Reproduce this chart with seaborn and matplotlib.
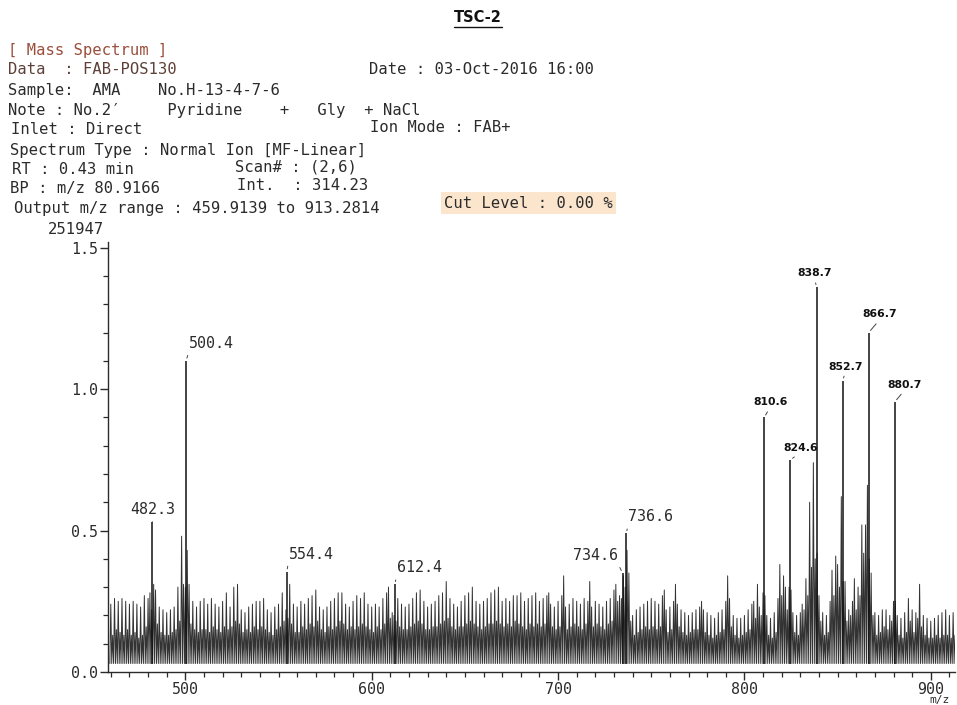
import numpy as np
import matplotlib
matplotlib.use("Agg")
import matplotlib.pyplot as plt
import seaborn as sns
from matplotlib.lines import Line2D
from matplotlib.ticker import MultipleLocator

# background ion comb, one relative intensity per nominal m/z from 460 upwards
comb_start = 460
comb_heights = [
    0.24, 0.13, 0.26, 0.15, 0.25, 0.14, 0.26, 0.13, 0.25, 0.15,  # 460
    0.24, 0.13, 0.25, 0.14, 0.24, 0.12, 0.23, 0.13, 0.27, 0.16,  # 470
    0.26, 0.28, 0.22, 0.31, 0.29, 0.17, 0.23, 0.14, 0.22, 0.13,  # 480
    0.21, 0.13, 0.22, 0.14, 0.23, 0.15, 0.30, 0.18, 0.48, 0.31,  # 490
    0.30, 0.43, 0.31, 0.17, 0.25, 0.15, 0.23, 0.14, 0.25, 0.15,  # 500
    0.26, 0.15, 0.24, 0.14, 0.26, 0.16, 0.24, 0.15, 0.23, 0.14,  # 510
    0.25, 0.16, 0.28, 0.15, 0.23, 0.16, 0.30, 0.18, 0.31, 0.17,  # 520
    0.22, 0.14, 0.21, 0.15, 0.23, 0.14, 0.24, 0.16, 0.25, 0.15,  # 530
    0.25, 0.16, 0.26, 0.15, 0.22, 0.14, 0.21, 0.13, 0.23, 0.15,  # 540
    0.24, 0.16, 0.28, 0.18, 0.22, 0.19, 0.31, 0.17, 0.24, 0.14,  # 550
    0.23, 0.14, 0.25, 0.16, 0.24, 0.15, 0.26, 0.17, 0.27, 0.16,  # 560
    0.29, 0.18, 0.23, 0.15, 0.22, 0.14, 0.23, 0.16, 0.25, 0.15,  # 570
    0.26, 0.16, 0.28, 0.18, 0.28, 0.17, 0.24, 0.15, 0.23, 0.16,  # 580
    0.25, 0.15, 0.27, 0.16, 0.26, 0.17, 0.28, 0.16, 0.24, 0.15,  # 590
    0.23, 0.14, 0.24, 0.16, 0.23, 0.15, 0.26, 0.17, 0.28, 0.30,  # 600
    0.19, 0.21, 0.20, 0.18, 0.26, 0.16, 0.24, 0.15, 0.23, 0.15,  # 610
    0.24, 0.16, 0.26, 0.17, 0.28, 0.18, 0.29, 0.17, 0.25, 0.15,  # 620
    0.23, 0.15, 0.24, 0.16, 0.25, 0.16, 0.27, 0.17, 0.28, 0.18,  # 630
    0.32, 0.19, 0.26, 0.16, 0.24, 0.15, 0.23, 0.16, 0.25, 0.16,  # 640
    0.27, 0.17, 0.28, 0.18, 0.30, 0.17, 0.25, 0.16, 0.24, 0.15,  # 650
    0.25, 0.16, 0.26, 0.17, 0.28, 0.17, 0.29, 0.18, 0.30, 0.17,  # 660
    0.25, 0.16, 0.26, 0.17, 0.25, 0.16, 0.27, 0.18, 0.27, 0.17,  # 670
    0.28, 0.16, 0.25, 0.15, 0.26, 0.17, 0.27, 0.16, 0.28, 0.17,  # 680
    0.25, 0.16, 0.26, 0.17, 0.27, 0.28, 0.24, 0.16, 0.23, 0.15,  # 690
    0.25, 0.16, 0.27, 0.34, 0.23, 0.15, 0.24, 0.16, 0.26, 0.17,  # 700
    0.25, 0.16, 0.24, 0.15, 0.26, 0.17, 0.25, 0.32, 0.23, 0.16,  # 710
    0.25, 0.17, 0.24, 0.16, 0.23, 0.15, 0.25, 0.17, 0.26, 0.18,  # 720
    0.29, 0.31, 0.25, 0.27, 0.26, 0.34, 0.30, 0.43, 0.35, 0.18,  # 730
    0.20, 0.13, 0.22, 0.14, 0.23, 0.15, 0.24, 0.16, 0.25, 0.15,  # 740
    0.26, 0.16, 0.25, 0.15, 0.24, 0.16, 0.27, 0.29, 0.22, 0.14,  # 750
    0.23, 0.15, 0.25, 0.31, 0.24, 0.16, 0.22, 0.14, 0.21, 0.13,  # 760
    0.20, 0.14, 0.21, 0.15, 0.22, 0.15, 0.23, 0.25, 0.22, 0.14,  # 770
    0.21, 0.13, 0.20, 0.12, 0.19, 0.13, 0.21, 0.14, 0.22, 0.15,  # 780
    0.25, 0.34, 0.26, 0.16, 0.20, 0.13, 0.19, 0.12, 0.19, 0.13,  # 790
    0.20, 0.14, 0.22, 0.15, 0.24, 0.25, 0.19, 0.31, 0.23, 0.20,  # 800
    0.28, 0.27, 0.20, 0.13, 0.19, 0.12, 0.21, 0.14, 0.26, 0.38,  # 810
    0.27, 0.34, 0.30, 0.22, 0.30, 0.29, 0.21, 0.14, 0.20, 0.13,  # 820
    0.21, 0.24, 0.22, 0.33, 0.27, 0.60, 0.37, 0.74, 0.40, 0.42,  # 830
    0.27, 0.18, 0.21, 0.13, 0.20, 0.14, 0.25, 0.36, 0.27, 0.41,  # 840
    0.38, 0.30, 0.62, 0.32, 0.32, 0.18, 0.22, 0.20, 0.25, 0.33,  # 850
    0.22, 0.30, 0.27, 0.52, 0.42, 0.52, 0.66, 0.40, 0.35, 0.20,  # 860
    0.21, 0.13, 0.20, 0.14, 0.22, 0.16, 0.22, 0.15, 0.20, 0.18,  # 870
    0.25, 0.25, 0.20, 0.13, 0.19, 0.12, 0.21, 0.14, 0.26, 0.18,  # 880
    0.22, 0.14, 0.21, 0.19, 0.31, 0.16, 0.20, 0.13, 0.19, 0.12,  # 890
    0.18, 0.12, 0.19, 0.13, 0.20, 0.12, 0.21, 0.13, 0.22, 0.13,  # 900
    0.20, 0.12, 0.21, 0.13,                                      # 910
]
noise_floor = 0.03

# labelled ions
peak_mz = [482.3, 500.4, 554.4, 612.4, 734.6, 736.6,
           810.6, 824.6, 838.7, 852.7, 866.7, 880.7]
peak_int = [0.53, 1.10, 0.355, 0.31, 0.35, 0.49,
            0.90, 0.75, 1.36, 1.03, 1.20, 0.955]
peak_text = ["482.3", "500.4", "554.4", "612.4", "734.6", "736.6",
             "810.6", "824.6", "838.7", "852.7", "866.7", "880.7"]

x_ticks = [500, 600, 700, 800, 900]
y_ticks = [0.0, 0.5, 1.0, 1.5]
y_tick_labels = ["0.0", "0.5", "1.0", "1.5"]

header_left = [
    "[ Mass Spectrum ]",
    "Data  : FAB-POS130",
    "Sample:  AMA    No.H-13-4-7-6",
    "Note : No.2\u2032     Pyridine    +   Gly  + NaCl",
    "Inlet : Direct",
    "Spectrum Type : Normal Ion [MF-Linear]",
    "RT : 0.43 min",
    "BP : m/z 80.9166",
    "Output m/z range : 459.9139 to 913.2814",
    "251947",
]
header_right = [
    "Date : 03-Oct-2016 16:00",
    "Ion Mode : FAB+",
    "Scan# : (2,6)",
    "Int.  : 314.23",
    "Cut Level : 0.00 %",
]

W, H = 957, 705
MONO = "DejaVu Sans Mono"
INK = "#2b2b2b"


def fx(x):
    return x / W


def fy(y):
    return 1 - y / H


sns.set_theme(style="ticks")
plt.rcParams["font.family"] = ["DejaVu Sans"]

fig = plt.figure(figsize=(W / 100, H / 100), dpi=100)
fig.patch.set_facecolor("white")

# title
title = fig.text(fx(478), fy(17), "TSC-2", ha="center", va="center",
                 fontsize=10.5, fontweight="bold", color="#111111")

# header block
left_pos = [(8, 51), (8, 70), (8, 90), (8, 110), (11, 130), (10, 150),
            (12, 170), (10, 189), (14, 208), (48, 230)]
for (x, y), s in zip(left_pos, header_left):
    col = "#9a4e3c" if s.startswith("[") else ("#5e4038" if s.startswith("Data") else INK)
    fig.text(fx(x), fy(y), s, family=MONO, fontsize=11.2, color=col,
             ha="left", va="center")

right_pos = [(369, 69), (370, 127), (235, 167), (237, 186), (444, 203)]
for (x, y), s in zip(right_pos, header_right):
    box = None
    if s.startswith("Cut"):
        box = dict(facecolor="#fbe5cc", edgecolor="none", pad=2.5)
    fig.text(fx(x), fy(y), s, family=MONO, fontsize=11.2, color=INK,
             ha="left", va="center", bbox=box)

# spectrum axes
ax = fig.add_axes([fx(108), fy(672), 847 / W, 430 / H])
ax.set_facecolor("white")

# profile trace: each comb ion rises from the noise floor and falls back
comb_mz = np.arange(comb_start, comb_start + len(comb_heights))
trace_x = np.column_stack([comb_mz - 0.5, comb_mz]).ravel()
trace_y = np.column_stack([np.full(len(comb_heights), noise_floor), comb_heights]).ravel()
sns.lineplot(x=trace_x, y=trace_y, ax=ax, color="#333333", lw=0.7,
             sort=False, estimator=None)
ax.vlines(peak_mz, noise_floor, peak_int, color="#111111", lw=1.1)

ax.set_xlim(458.5, 913)
ax.set_ylim(0, 1.52)
ax.set_xticks(x_ticks)
ax.set_xticklabels([str(t) for t in x_ticks])
ax.set_yticks(y_ticks)
ax.set_yticklabels(y_tick_labels)
ax.xaxis.set_minor_locator(MultipleLocator(10))
ax.yaxis.set_minor_locator(MultipleLocator(0.1))
ax.tick_params(which="major", direction="out", length=5.5, width=1.0,
               color=INK, labelcolor=INK, labelsize=10.8, pad=1.5)
ax.tick_params(which="minor", direction="out", length=3.5, width=0.9, color=INK)
for lab in ax.get_xticklabels() + ax.get_yticklabels():
    lab.set_family(MONO)
ax.set_xlabel("")
ax.set_ylabel("")
sns.despine(ax=ax)
for side in ["left", "bottom"]:
    ax.spines[side].set_color(INK)
    ax.spines[side].set_linewidth(1.0)
ax.grid(False)

# peak annotations
label_offsets = [(0, 3.6), (2.2, 7.2), (1.4, 7.2), (1.4, 6.5), (-3.6, 7.2), (1.4, 6.5),
                 (4.3, 7.2), (7.2, 5.0), (-1.4, 6.5), (2.2, 6.5), (8.0, 9.4), (7.2, 8.6)]
label_align = ["center", "left", "left", "left", "right", "left",
               "center", "center", "center", "center", "center", "center"]
for mz, h, s, off, al in zip(peak_mz, peak_int, peak_text, label_offsets, label_align):
    rel = {"left": (0, 0), "center": (0.5, 0), "right": (1, 0)}[al]
    if mz > 800:
        font = dict(family="DejaVu Sans", fontsize=7.8, fontweight="bold", color="#111111")
    else:
        font = dict(family=MONO, fontsize=10.8, color=INK)
    ax.annotate(s, xy=(mz, h), xytext=off, textcoords="offset points",
                ha=al, va="bottom",
                arrowprops=dict(arrowstyle="-", color="#444444", lw=0.7,
                                shrinkA=1, shrinkB=2, relpos=rel),
                **font)

fig.text(fx(929), fy(700), "m/z", family=MONO, fontsize=8, color=INK,
         ha="left", va="center")

# underline the title
fig.canvas.draw()
bb = title.get_window_extent()
fig.add_artist(Line2D([bb.x0 / W, bb.x1 / W], [(bb.y0 - 2) / H, (bb.y0 - 2) / H],
                      color="#111111", lw=1.0, transform=fig.transFigure))

fig.savefig("out.png", dpi=100, facecolor="white")
plt.close(fig)
